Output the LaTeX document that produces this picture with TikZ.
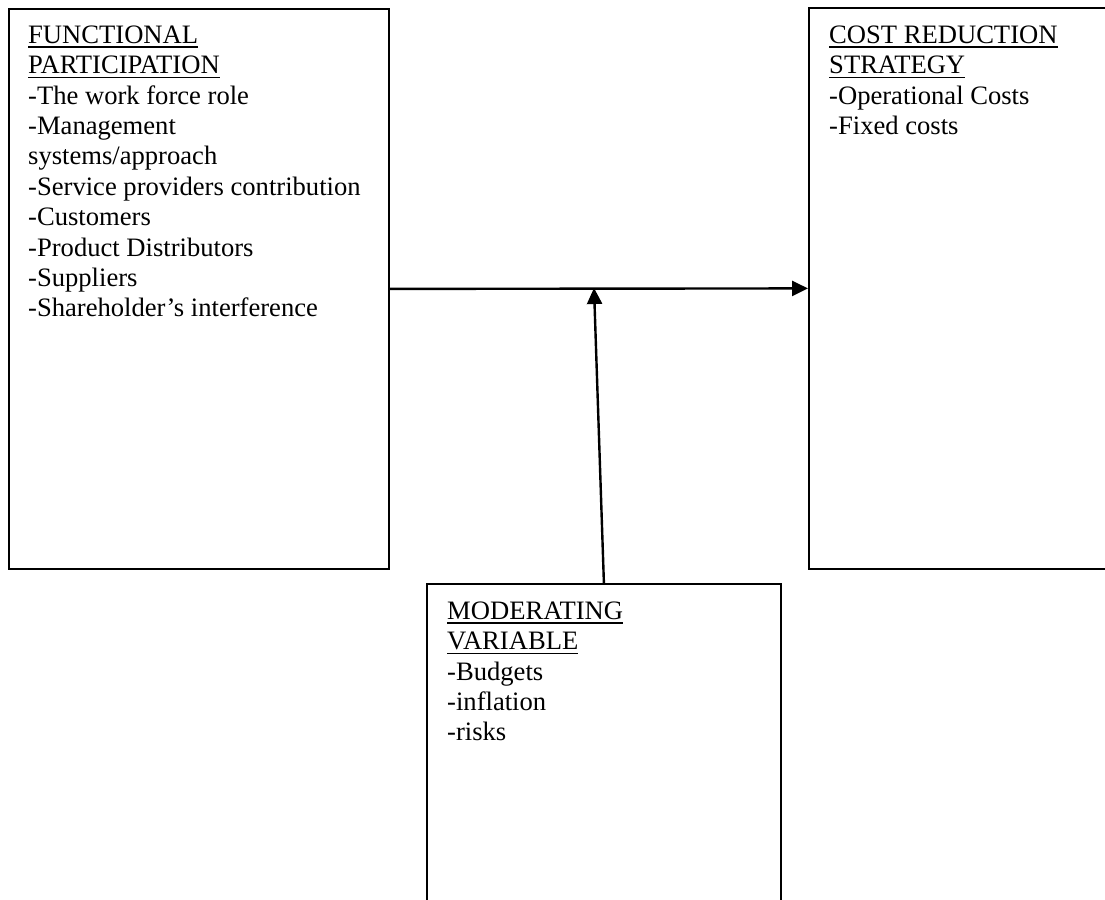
\documentclass[tikz,border=0pt]{standalone}
\usepackage{fontspec}
\setmainfont{Liberation Serif}
\usetikzlibrary{arrows.meta,positioning}

\newcommand{\hdr}[1]{\setbox0\hbox{#1}\rlap{\rule[-4.5pt]{\wd0}{1.5pt}}\box0}

\tikzset{
    box/.style={draw,line width=1.8pt,minimum width=#1,inner sep=0pt,anchor=north west},
    boxtext/.style={align=left,inner sep=0pt,font=\fontsize{26.6}{30.4}\selectfont},
    link/.style={line width=2.4pt,-{Triangle[length=16pt,width=15pt]}}
}

\begin{document}
\begin{tikzpicture}[x=1pt,y=-1pt]
        \useasboundingbox (0,0) rectangle (1105,899);
        \clip (0,0) rectangle (1105,899);
        % the three boxes
        \node[box=380pt,minimum height=560pt] (func) at (8,8) {};
        \node[box=320pt,minimum height=561pt] (cost) at (808,7) {};
        \node[box=354pt,minimum height=340pt] (moder) at (426,583) {};
        % their texts
        \node[boxtext,below right=17.5pt and 20pt of func.north west] (functext)
            {\hdr{FUNCTIONAL}\\\hdr{PARTICIPATION}\\-The work force role\\-Management\\systems/approach\\-Service providers contribution\\-Customers\\-Product Distributors\\-Suppliers\\-Shareholder’s interference};
        \node[boxtext,below right=18.5pt and 21pt of cost.north west] (costtext)
            {\hdr{COST REDUCTION}\\\hdr{STRATEGY}\\-Operational Costs\\-Fixed costs};
        \node[boxtext,below right=18.5pt and 21pt of moder.north west] (modertext)
            {\hdr{MODERATING}\\\hdr{VARIABLE}\\-Budgets\\-inflation\\-risks};
        % connectors
        \coordinate (join) at (594,288);
        \draw[link] (func.east) -- (cost.west);
        \draw[link] (moder.north) -- (join);
\end{tikzpicture}
\end{document}
